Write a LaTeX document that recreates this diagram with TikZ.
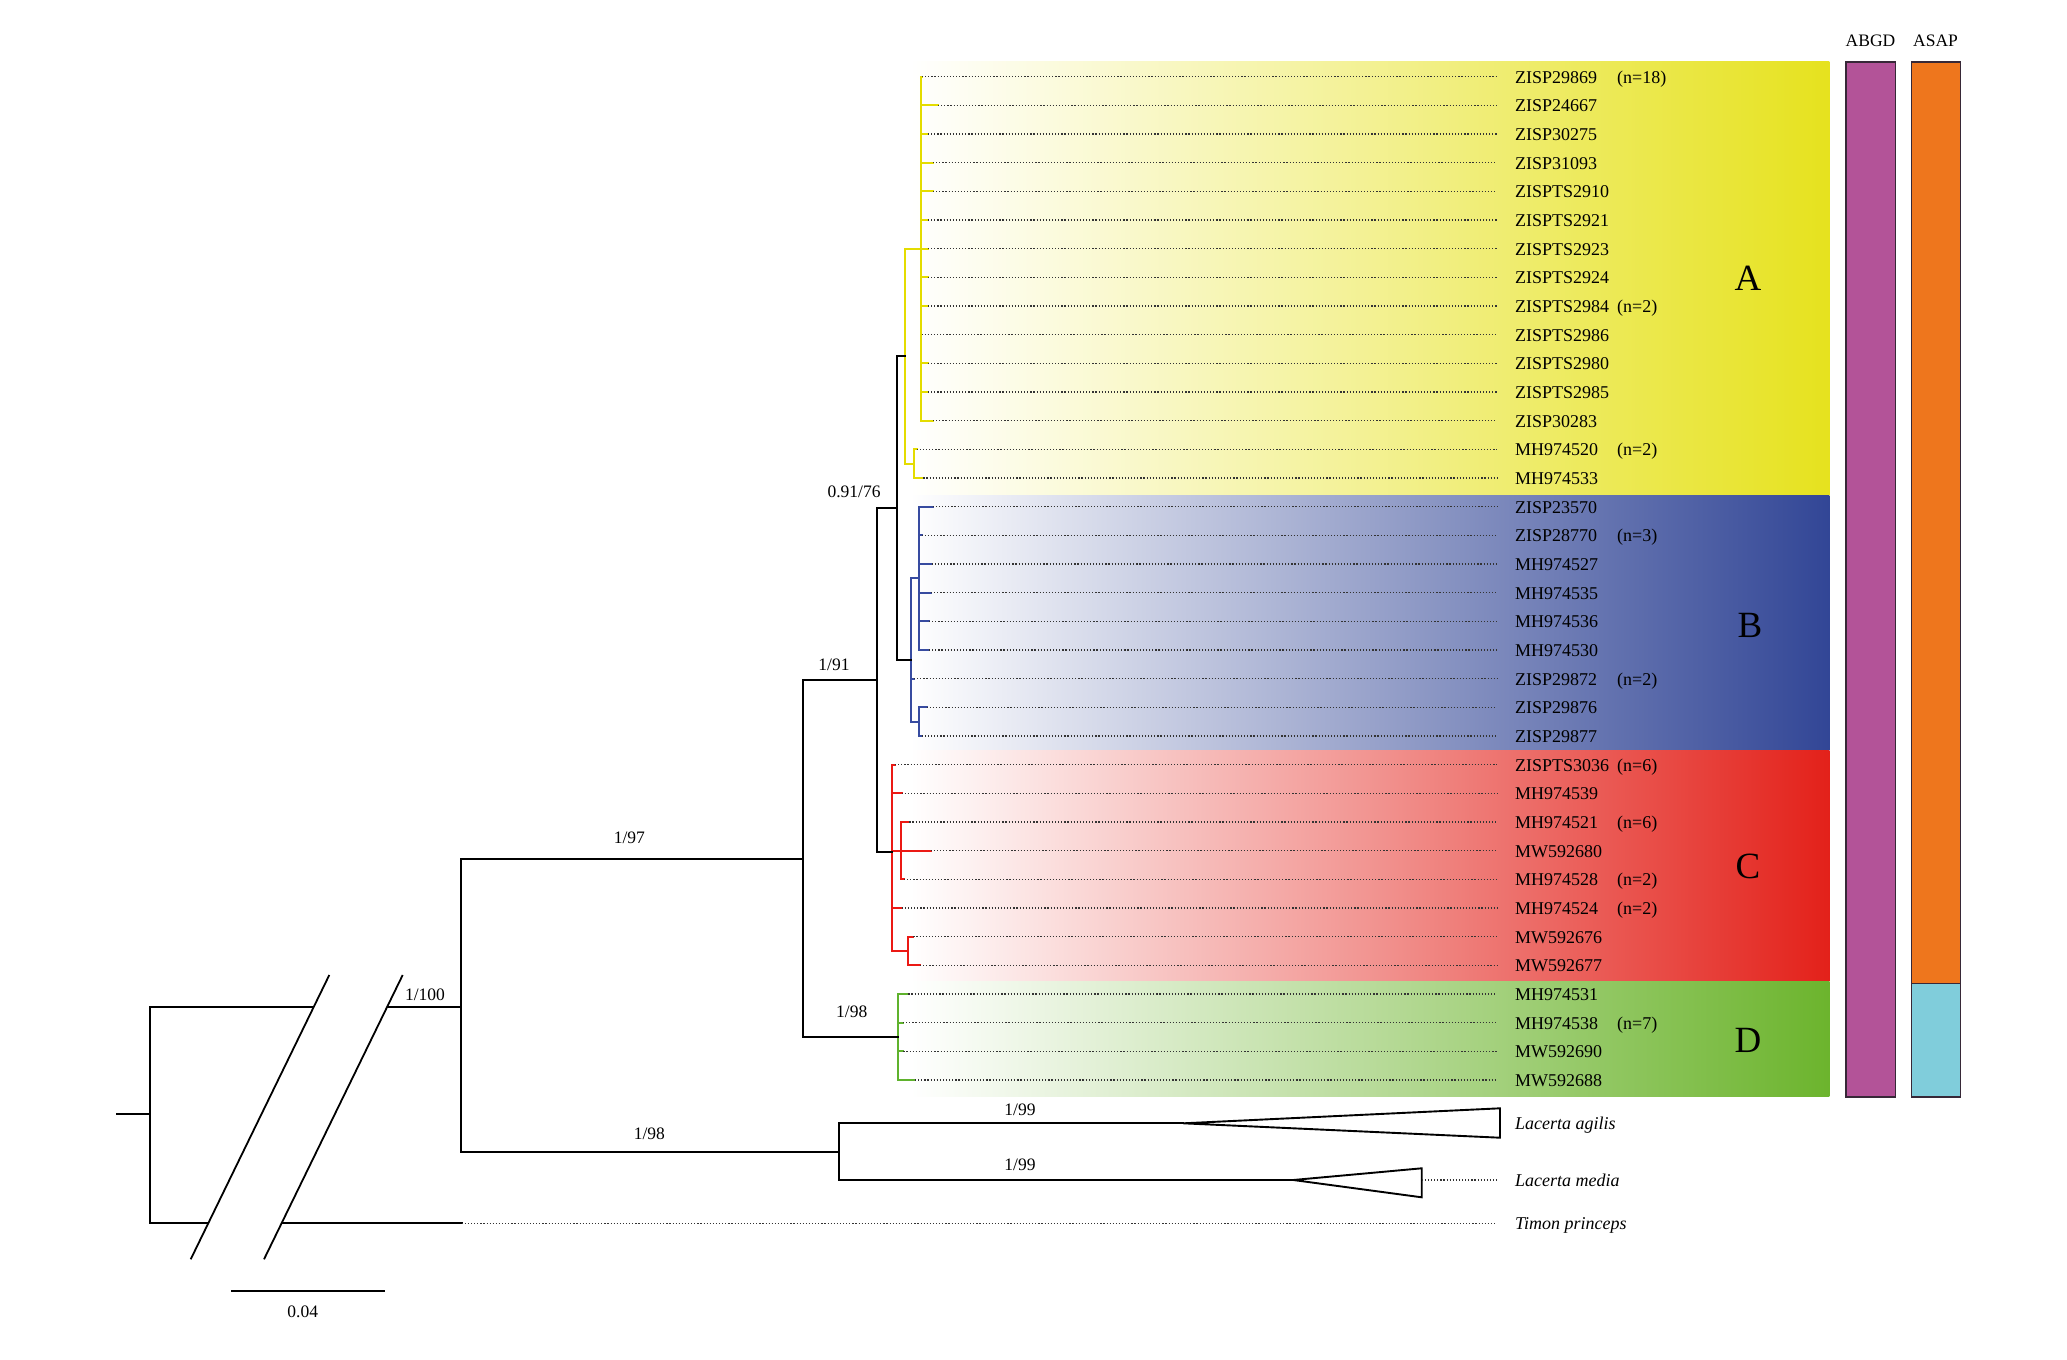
\documentclass[tikz,border=0pt]{standalone}
\usepackage{fontspec}
\setmainfont{Liberation Serif}
\definecolor{bandA}{RGB}{230,226,30}
\definecolor{bandB}{RGB}{50,70,150}
\definecolor{bandC}{RGB}{227,33,26}
\definecolor{bandD}{RGB}{108,180,45}
\definecolor{cyel}{RGB}{228,220,0}
\definecolor{cblu}{RGB}{55,75,160}
\definecolor{cred}{RGB}{235,25,20}
\definecolor{cgrn}{RGB}{95,178,45}
\definecolor{cabgd}{RGB}{179,83,152}
\definecolor{casap}{RGB}{238,118,29}
\definecolor{casap2}{RGB}{128,205,219}
\definecolor{cbarline}{RGB}{55,40,55}
\tikzset{
  br/.style={line width=1.9pt, line cap=rect},
  leafdots/.style={line width=1.3pt, dash pattern=on 1.2pt off 1.9pt, black!80},
  lbl/.style={anchor=base west, inner sep=0pt, font=\fontsize{18}{20}\selectfont},
  suplbl/.style={inner sep=0pt, font=\fontsize{17.5}{20}\selectfont},
  biglbl/.style={inner sep=0pt, font=\fontsize{37}{40}\selectfont},
  barbox/.style={draw=cbarline, line width=1.6pt},
}
% row, label, parent node, stub x, colour
\newcommand\mkleaf[5]{%
  \pgfmathsetmacro\rowy{76.7+28.666*#1}%
  \coordinate (t#1) at (#4,\rowy);
  \node[lbl] (L#1) at (1515,\rowy+6.4) {#2};
  \draw[br,#5] (t#1 -| #3) -- (t#1);
  \draw[leafdots, shorten >=18pt] (t#1) -- (t#1 -| L#1.west);
}
\newcommand\mkcount[2]{%
  \pgfmathsetmacro\rowy{76.7+28.666*#1}%
  \node[lbl] (n#1) at (1617,\rowy+6.4) {#2};
}
\begin{document}
\begin{tikzpicture}[x=1pt,y=-1pt]
\useasboundingbox[fill=white] (0,0) rectangle (2067,1360);

% internal nodes
\coordinate (Rs) at (117.3,1114.3);
\coordinate (R0) at (150,1114.3);
\coordinate (N1) at (461,1007.3);
\coordinate (Tt) at (461.7,1223.3);
\coordinate (N2) at (803.3,859.3);
\coordinate (NL) at (839.3,1151.7);
\coordinate (N3) at (877.3,680);
\coordinate (ND) at (898.3,1036.7);
\coordinate (NAB) at (896.7,508.3);
\coordinate (NC) at (891.7,852);
\coordinate (NA) at (905,356);
\coordinate (NB) at (910.7,660);
\coordinate (NA1) at (920.7,248.7);
\coordinate (NA2) at (914.3,463.7);
\coordinate (NB1) at (919.3,578.3);
\coordinate (NB2) at (919,721.7);
\coordinate (NC1) at (900.7,850.7);
\coordinate (NC2) at (908.3,951);
\coordinate (AgA) at (1183.3,1123.3);
\coordinate (MeA) at (1293.3,1180);

% clade bands
\shade[left color=white, right color=bandA, middle color=bandA!48!white] (910,61.7) rectangle (1829.3,495);
\shade[left color=white, right color=bandB, middle color=bandB!50!white] (910,495) rectangle (1829.3,750);
\shade[left color=white, right color=bandC, middle color=bandC!48!white] (910,750) rectangle (1829.3,981.7);
\shade[left color=white, right color=bandD, middle color=bandD!48!white] (910,981.7) rectangle (1829.3,1096.7);

% species delimitation bars
\node[anchor=base, inner sep=0pt, font=\fontsize{17.5}{20}\selectfont] (abgd) at (1870.5,46) {ABGD};
\node[anchor=base, inner sep=0pt, font=\fontsize{17.5}{20}\selectfont] (asap) at (1935.5,46) {ASAP};
\draw[barbox, fill=cabgd] (1846,61.7) rectangle (1895.3,1096.7);
\draw[barbox, fill=casap] (1911.3,61.7) rectangle (1960.3,983.3);
\draw[barbox, fill=casap2] (1911.3,983.3) rectangle (1960.3,1096.7);

% leaves
\mkleaf{0}{ZISP29869}{NA1}{922}{cyel}
\mkleaf{1}{ZISP24667}{NA1}{938}{cyel}
\mkleaf{2}{ZISP30275}{NA1}{928}{cyel}
\mkleaf{3}{ZISP31093}{NA1}{933}{cyel}
\mkleaf{4}{ZISPTS2910}{NA1}{933}{cyel}
\mkleaf{5}{ZISPTS2921}{NA1}{928}{cyel}
\mkleaf{6}{ZISPTS2923}{NA1}{928}{cyel}
\mkleaf{7}{ZISPTS2924}{NA1}{928}{cyel}
\mkleaf{8}{ZISPTS2984}{NA1}{928}{cyel}
\mkleaf{9}{ZISPTS2986}{NA1}{921.5}{cyel}
\mkleaf{10}{ZISPTS2980}{NA1}{928}{cyel}
\mkleaf{11}{ZISPTS2985}{NA1}{928}{cyel}
\mkleaf{12}{ZISP30283}{NA1}{933}{cyel}
\mkleaf{13}{MH974520}{NA2}{916.7}{cyel}
\mkleaf{14}{MH974533}{NA2}{923.3}{cyel}
\mkleaf{15}{ZISP23570}{NB1}{932.7}{cblu}
\mkleaf{16}{ZISP28770}{NB1}{921.7}{cblu}
\mkleaf{17}{MH974527}{NB1}{931.7}{cblu}
\mkleaf{18}{MH974535}{NB1}{931}{cblu}
\mkleaf{19}{MH974536}{NB1}{929}{cblu}
\mkleaf{20}{MH974530}{NB1}{929}{cblu}
\mkleaf{21}{ZISP29872}{NB}{914}{cblu}
\mkleaf{22}{ZISP29876}{NB2}{926.7}{cblu}
\mkleaf{23}{ZISP29877}{NB2}{921.7}{cblu}
\mkleaf{24}{ZISPTS3036}{NC}{895}{cred}
\mkleaf{25}{MH974539}{NC}{901.7}{cred}
\mkleaf{26}{MH974521}{NC1}{909.3}{cred}
\mkleaf{27}{MW592680}{NC1}{930.7}{cred}
\mkleaf{28}{MH974528}{NC1}{904}{cred}
\mkleaf{29}{MH974524}{NC}{901.7}{cred}
\mkleaf{30}{MW592676}{NC2}{913.3}{cred}
\mkleaf{31}{MW592677}{NC2}{920}{cred}
\mkleaf{32}{MH974531}{ND}{908.3}{cgrn}
\mkleaf{33}{MH974538}{ND}{903}{cgrn}
\mkleaf{34}{MW592690}{ND}{903.3}{cgrn}
\mkleaf{35}{MW592688}{ND}{915}{cgrn}

\mkcount{0}{(n=18)}
\mkcount{8}{(n=2)}
\mkcount{13}{(n=2)}
\mkcount{16}{(n=3)}
\mkcount{21}{(n=2)}
\mkcount{24}{(n=6)}
\mkcount{26}{(n=6)}
\mkcount{28}{(n=2)}
\mkcount{29}{(n=2)}
\mkcount{33}{(n=7)}

% clade verticals (coloured)
\draw[br,cyel] (NA |- NA1) -- (NA |- NA2);
\draw[br,cyel] (NA1 |- t0) -- (NA1 |- t12);
\draw[br,cyel] (NA2 |- t13) -- (NA2 |- t14);
\draw[br,cyel] (NA1 -| NA) -- (NA1);
\draw[br,cyel] (NA2 -| NA) -- (NA2);
\draw[br,cblu] (NB |- NB1) -- (NB |- NB2);
\draw[br,cblu] (NB1 |- t15) -- (NB1 |- t20);
\draw[br,cblu] (NB2 |- t22) -- (NB2 |- t23);
\draw[br,cblu] (NB1 -| NB) -- (NB1);
\draw[br,cblu] (NB2 -| NB) -- (NB2);
\draw[br,cred] (NC |- t24) -- (NC |- NC2);
\draw[br,cred] (NC1 |- t26) -- (NC1 |- t28);
\draw[br,cred] (NC2 |- t30) -- (NC2 |- t31);
\draw[br,cred] (NC1 -| NC) -- (NC1);
\draw[br,cred] (NC2 -| NC) -- (NC2);
\draw[br,cgrn] (ND |- t32) -- (ND |- t35);

% backbone (black)
\draw[br] (Rs) -- (R0);
\draw[br] (R0 |- N1) -- (R0 |- Tt);
\draw[br] (N1 -| R0) -- (N1);
\draw[br] (Tt -| R0) -- (Tt);
\draw[br] (N1 |- N2) -- (N1 |- NL);
\draw[br] (N2 -| N1) -- (N2);
\draw[br] (NL -| N1) -- (NL);
\draw[br] (N2 |- N3) -- (N2 |- ND);
\draw[br] (N3 -| N2) -- (N3);
\draw[br] (ND -| N2) -- (ND);
\draw[br] (N3 |- NAB) -- (N3 |- NC);
\draw[br] (NAB -| N3) -- (NAB);
\draw[br] (NC -| N3) -- (NC);
\draw[br] (NAB |- NA) -- (NAB |- NB);
\draw[br] (NA -| NAB) -- (NA);
\draw[br] (NB -| NAB) -- (NB);

% outgroups
\draw[br] (NL |- AgA) -- (NL |- MeA);
\draw[br] (AgA -| NL) -- (AgA);
\draw[br] (MeA -| NL) -- (MeA);
\draw[line width=1.9pt, line join=miter] (AgA) -- (1500,1108.3) -- (1500,1137.7) -- cycle;
\draw[line width=1.9pt, line join=miter] (MeA) -- (1421.7,1168.3) -- (1421.7,1197.3) -- cycle;
\node[lbl, font=\fontsize{18}{20}\selectfont\itshape] (Lag) at (1515,1129.5) {Lacerta agilis};
\node[lbl, font=\fontsize{18}{20}\selectfont\itshape] (Lme) at (1515,1186.3) {Lacerta media};
\node[lbl, font=\fontsize{18}{20}\selectfont\itshape] (Tpr) at (1515,1229.5) {Timon princeps};
\draw[leafdots, shorten >=18pt] (1421.7,1180) -- (MeA -| Lme.west);
\draw[leafdots, shorten >=18pt] (Tt) -- (Tt -| Tpr.west);

% axis break
\fill[white] (190.7,1259.3) -- (329.3,975) -- (402.7,975) -- (264,1259.3) -- cycle;
\draw[line width=1.8pt] (190.7,1259.3) -- (329.3,975);
\draw[line width=1.8pt] (264,1259.3) -- (402.7,975);

% support values
\node[suplbl] (s1) at (425,995) {1/100};
\node[suplbl] (s2) at (629.3,837.3) {1/97};
\node[suplbl] (s3) at (649.3,1134) {1/98};
\node[suplbl] (s4) at (851.7,1011.7) {1/98};
\node[suplbl] (s5) at (834,665) {1/91};
\node[suplbl] (s6) at (854,491.7) {0.91/76};
\node[suplbl] (s7) at (1020,1110) {1/99};
\node[suplbl] (s8) at (1020,1165) {1/99};

% clade letters
\node[biglbl] (cA) at (1748,278) {A};
\node[biglbl] (cB) at (1750,625) {B};
\node[biglbl] (cC) at (1748,866) {C};
\node[biglbl] (cD) at (1748,1040) {D};

% scale bar
\coordinate (sb1) at (231.7,1290.7);
\coordinate (sb2) at (384.3,1290.7);
\draw[br] (sb1) -- (sb2);
\node[suplbl] (sbl) at (302.7,1312) {0.04};
\end{tikzpicture}
\end{document}
